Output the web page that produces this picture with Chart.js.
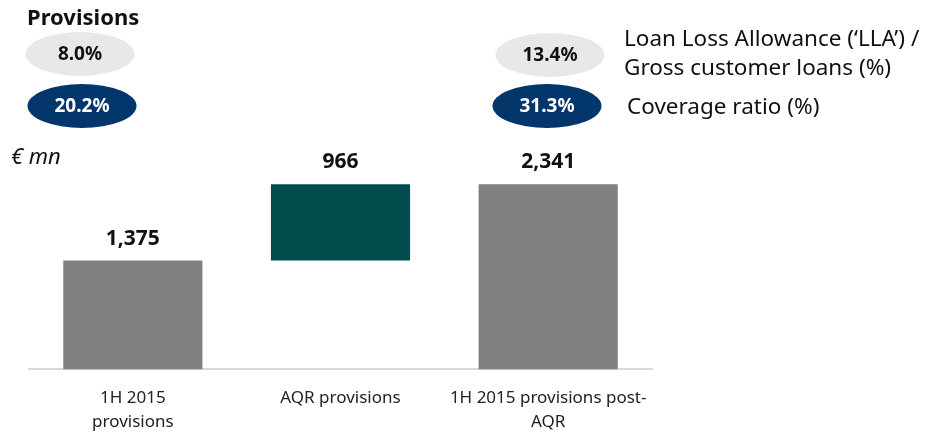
<!DOCTYPE html>
<html>
<head>
<meta charset="utf-8">
<script src="https://cdn.jsdelivr.net/npm/chart.js@4"></script>
<style>
  html, body { margin: 0; padding: 0; background: #fff; }
  #wrap { position: relative; width: 928px; height: 433px; }
</style>
</head>
<body>
<div id="wrap"><canvas id="provChart" width="928" height="433"></canvas></div>
<script>
// waterfall: opening stock, AQR top-up, closing stock (EUR mn)
const categories = [["1H 2015", "provisions"], "AQR provisions", ["1H 2015 provisions post-", "AQR"]];
const barStarts = [0, 1375, 0];
const barEnds = [1375, 2341, 2341];
const valueLabels = ["1,375", "966", "2,341"];
const barColors = ["#808080", "#034c4d", "#808080"];

// ratio bubbles: left = before AQR, right = after AQR
const llaRatios = ["8.0%", "13.4%"];
const coverageRatios = ["20.2%", "31.3%"];
const ratioNames = [["Loan Loss Allowance (\u2018LLA\u2019) /", "Gross customer loans (%)"], ["Coverage ratio (%)"]];

const FONT = "'Noto Sans', 'Open Sans', sans-serif";

const decorations = {
    id: "decorations",
    afterDatasetsDraw(chart) {
        const ctx = chart.ctx;
        const meta = chart.getDatasetMeta(0);
        ctx.save();

        // value labels above each bar
        ctx.fillStyle = "#111";
        ctx.font = "bold 21px " + FONT;
        ctx.textAlign = "center";
        ctx.textBaseline = "middle";
        meta.data.forEach((bar, i) => {
            ctx.fillText(valueLabels[i], bar.x, Math.min(bar.y, bar.base) - 22);
        });

        // title + unit
        ctx.textAlign = "left";
        ctx.font = "bold 22px " + FONT;
        ctx.fillText("Provisions", 27, 19);
        ctx.font = "italic 22px " + FONT;
        ctx.fillText("\u20ac mn", 11, 158);

        // ellipses
        const drawBubble = (cx, cy, fill, color, text) => {
            ctx.beginPath();
            ctx.ellipse(cx, cy, 54.5, 22, 0, 0, Math.PI * 2);
            ctx.fillStyle = fill;
            ctx.fill();
            ctx.fillStyle = color;
            ctx.font = "bold 19px " + FONT;
            ctx.textAlign = "center";
            ctx.fillText(text, cx, cy + 1);
        };
        drawBubble(80, 54, "#e8e8e8", "#111", llaRatios[0]);
        drawBubble(82, 106, "#03366a", "#fff", coverageRatios[0]);
        drawBubble(550, 55, "#e8e8e8", "#111", llaRatios[1]);
        drawBubble(547, 106, "#03366a", "#fff", coverageRatios[1]);

        // bubble descriptions
        ctx.fillStyle = "#111";
        ctx.font = "22.5px " + FONT;
        ctx.textAlign = "left";
        ctx.fillText(ratioNames[0][0], 624, 40);
        ctx.fillText(ratioNames[0][1], 624, 69);
        ctx.fillText(ratioNames[1][0], 627, 108);

        ctx.restore();
    }
};

new Chart(document.getElementById("provChart"), {
    type: "bar",
    data: {
        labels: categories,
        datasets: [{
            data: barStarts.map((s, i) => [s, barEnds[i]]),
            backgroundColor: barColors,
            borderWidth: 0,
            borderSkipped: false,
            categoryPercentage: 1,
            barPercentage: 0.67
        }]
    },
    options: {
        responsive: false,
        animation: false,
        layout: { padding: { left: 29, right: 276, top: 132, bottom: -18 } },
        plugins: { legend: { display: false }, tooltip: { enabled: false } },
        scales: {
            x: {
                grid: { display: false, drawTicks: false },
                border: { color: "#d9d9d9", width: 2 },
                ticks: {
                    color: "#222",
                    padding: 17,
                    font: { family: FONT, size: 17, lineHeight: 1.4 }
                }
            },
            y: {
                display: false,
                min: 0,
                max: 3000
            }
        }
    },
    plugins: [decorations]
});
</script>
</body>
</html>
